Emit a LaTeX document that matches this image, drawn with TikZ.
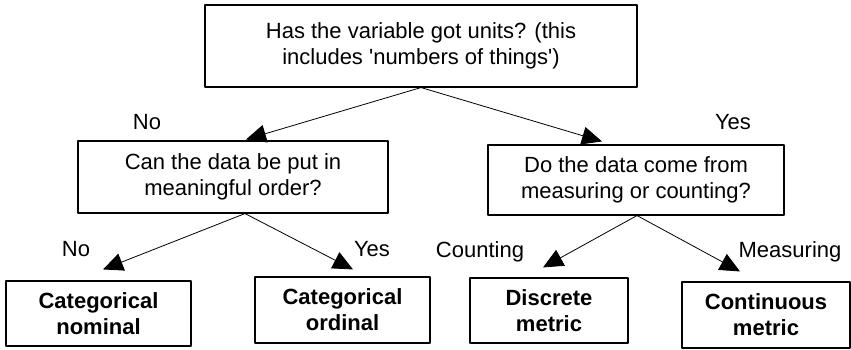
\documentclass[tikz,border=0pt]{standalone}
\usepackage{fontspec}
\setmainfont{Liberation Sans}
\usetikzlibrary{arrows.meta}
\begin{document}
\begin{tikzpicture}[x=1pt,y=-1pt,>={Triangle[length=20pt,width=18pt]},
  font=\fontsize{22}{26}\selectfont, line join=round,
  qbox/.style={draw,line width=1.1pt,align=center,inner sep=0pt},
  endbox/.style={qbox,font=\fontsize{22}{26}\selectfont\bfseries},
  lbl/.style={anchor=base,inner sep=0pt},
  arr/.style={->,line width=0.8pt}]
  \useasboundingbox (0,0) rectangle (851,350);
  % questions
  \node[qbox,minimum width=432pt,minimum height=82pt] (units) at (421,46)
    {Has the variable got units? (this\\includes \textquotesingle numbers of things\textquotesingle)};
  \node[qbox,minimum width=310pt,minimum height=72pt] (order) at (233,177)
    {Can the data be put in\\meaningful order?};
  \node[qbox,minimum width=296pt,minimum height=70pt] (count) at (636,180)
    {Do the data come from\\measuring or counting?};
  % answers
  \node[endbox,minimum width=185pt,minimum height=65pt] (nominal) at (98.5,313.5) {Categorical\\nominal};
  \node[endbox,minimum width=175pt,minimum height=66pt] (ordinal) at (342.5,310) {Categorical\\ordinal};
  \node[endbox,minimum width=158pt,minimum height=65pt] (discrete) at (549,310.5) {Discrete\\metric};
  \node[endbox,minimum width=168pt,minimum height=66pt] (continuous) at (766,315) {Continuous\\metric};
  % arrows
  \draw[arr] (units.south) -- ([xshift=13pt,yshift=1pt]order.north);
  \draw[arr] (units.south) -- ([xshift=-34pt,yshift=3pt]count.north);
  \draw[arr] ([xshift=12pt]order.south) -- ([xshift=4.5pt,yshift=11pt]nominal.north);
  \draw[arr] ([xshift=12pt]order.south) -- ([xshift=10.5pt,yshift=7pt]ordinal.north);
  \draw[arr] ([xshift=1pt]count.south) -- ([xshift=-6pt,yshift=10pt]discrete.north);
  \draw[arr] ([xshift=1pt]count.south) -- ([xshift=-26pt,yshift=10pt]continuous.north);
  % labels
  \node[lbl] (no1) at (147,129) {No};
  \node[lbl] (yes1) at (733,129) {Yes};
  \node[lbl] (no2) at (76,256) {No};
  \node[lbl] (yes2) at (372,256) {Yes};
  \node[lbl] (counting) at (480,257) {Counting};
  \node[lbl] (measuring) at (790,257) {Measuring};
\end{tikzpicture}
\end{document}
